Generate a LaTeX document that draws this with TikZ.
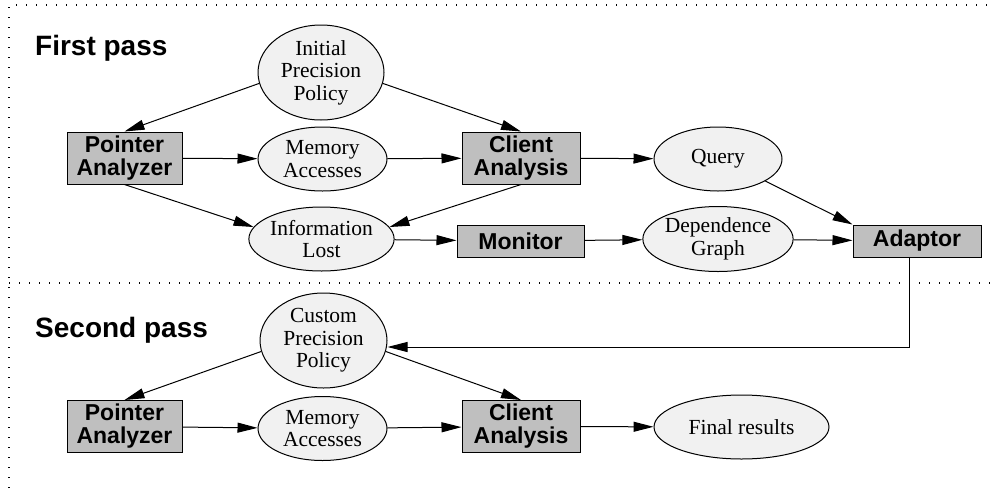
\documentclass[tikz,border=0pt]{standalone}
\usepackage{fontspec}
\setmainfont{Liberation Serif}
\newfontfamily\hvfont{Liberation Sans}
\usetikzlibrary{arrows.meta,shapes.geometric}
\definecolor{boxgray}{gray}{0.75}
\definecolor{ellgray}{gray}{0.945}
\begin{document}
\begin{tikzpicture}[x=1pt,y=-1pt,
  proc/.style={draw=black, fill=boxgray, line width=1pt, inner sep=0pt, align=center,
    font=\hvfont\bfseries\fontsize{23}{23}\selectfont},
  data/.style={ellipse, draw=black, fill=ellgray, line width=1pt, inner sep=0pt, align=center,
    font=\fontsize{21.5}{22.5}\selectfont},
  flow/.style={-{Triangle[length=20pt,width=10pt]}, line width=1pt},
  frameline/.style={line width=1.3pt, dash pattern=on 1.3pt off 8.7pt},
  title/.style={anchor=base west, inner sep=0pt, font=\hvfont\bfseries\fontsize{28}{30}\selectfont}]
\useasboundingbox (0,0) rectangle (994,488);
% frame
\draw[frameline] (9,488) -- (9,5) -- (994,5);
\draw[frameline] (9,283) -- (994,283);
% titles
\node[title] (t1) at (35,55) {First pass};
\node[title] (t2) at (35,337) {Second pass};
% first pass
\node[data, minimum width=126pt, minimum height=95pt] (ipp) at (321,72.5) {Initial\\Precision\\Policy};
\node[proc, minimum width=115pt, minimum height=52pt] (pa1) at (124.5,158) {Pointer\\Analyzer};
\node[data, minimum width=129pt, minimum height=64pt] (ma1) at (322.5,159) {Memory\\Accesses};
\node[proc, minimum width=118pt, minimum height=52pt] (ca1) at (521,158) {Client\\Analysis};
\node[data, minimum width=128pt, minimum height=64pt] (q) at (718,159) {Query};
\node[data, minimum width=127pt, minimum height=64pt] (il) at (321.5,239) {Information\\Lost};
\node[proc, minimum width=127pt, minimum height=32pt] (mon) at (520.5,241) {Monitor};
\node[data, minimum width=128pt, minimum height=65pt] (dg) at (718,239) {Dependence\\Graph};
\node[proc, minimum width=128pt, minimum height=32pt] (ad) at (917,241) {Adaptor};
% second pass
\node[data, minimum width=127pt, minimum height=95pt] (cpp) at (323.5,340.5) {Custom\\Precision\\Policy};
\node[proc, minimum width=115pt, minimum height=52pt] (pa2) at (124.5,426.5) {Pointer\\Analyzer};
\node[data, minimum width=129pt, minimum height=64pt] (ma2) at (322.5,428.5) {Memory\\Accesses};
\node[proc, minimum width=118pt, minimum height=52pt] (ca2) at (521,426.5) {Client\\Analysis};
\node[data, minimum width=175pt, minimum height=64pt] (fr) at (741.5,427) {Final results};
% connectors first pass
\draw[flow] (ipp.190) -- (pa1.north);
\draw[flow] (ipp.350) -- (ca1.north);
\draw[flow] (pa1) -- (ma1);
\draw[flow] (ma1) -- (ca1);
\draw[flow] (ca1) -- (q);
\draw[flow] (pa1.south) -- (il.170);
\draw[flow] (ca1.south) -- (il.10);
\draw[flow] (il) -- (mon);
\draw[flow] (mon) -- (dg);
\draw[flow] (dg) -- (ad);
\draw[flow] (q.335) -- (ad.north west);
\draw[flow] ([xshift=-8pt]ad.south) |- ([yshift=-6.5pt]cpp.east);
% connectors second pass
\draw[flow] (cpp.190) -- (pa2.north);
\draw[flow] (cpp.350) -- (ca2.north);
\draw[flow] (pa2) -- (ma2);
\draw[flow] (ma2) -- (ca2);
\draw[flow] (ca2) -- (fr);
\end{tikzpicture}
\end{document}
